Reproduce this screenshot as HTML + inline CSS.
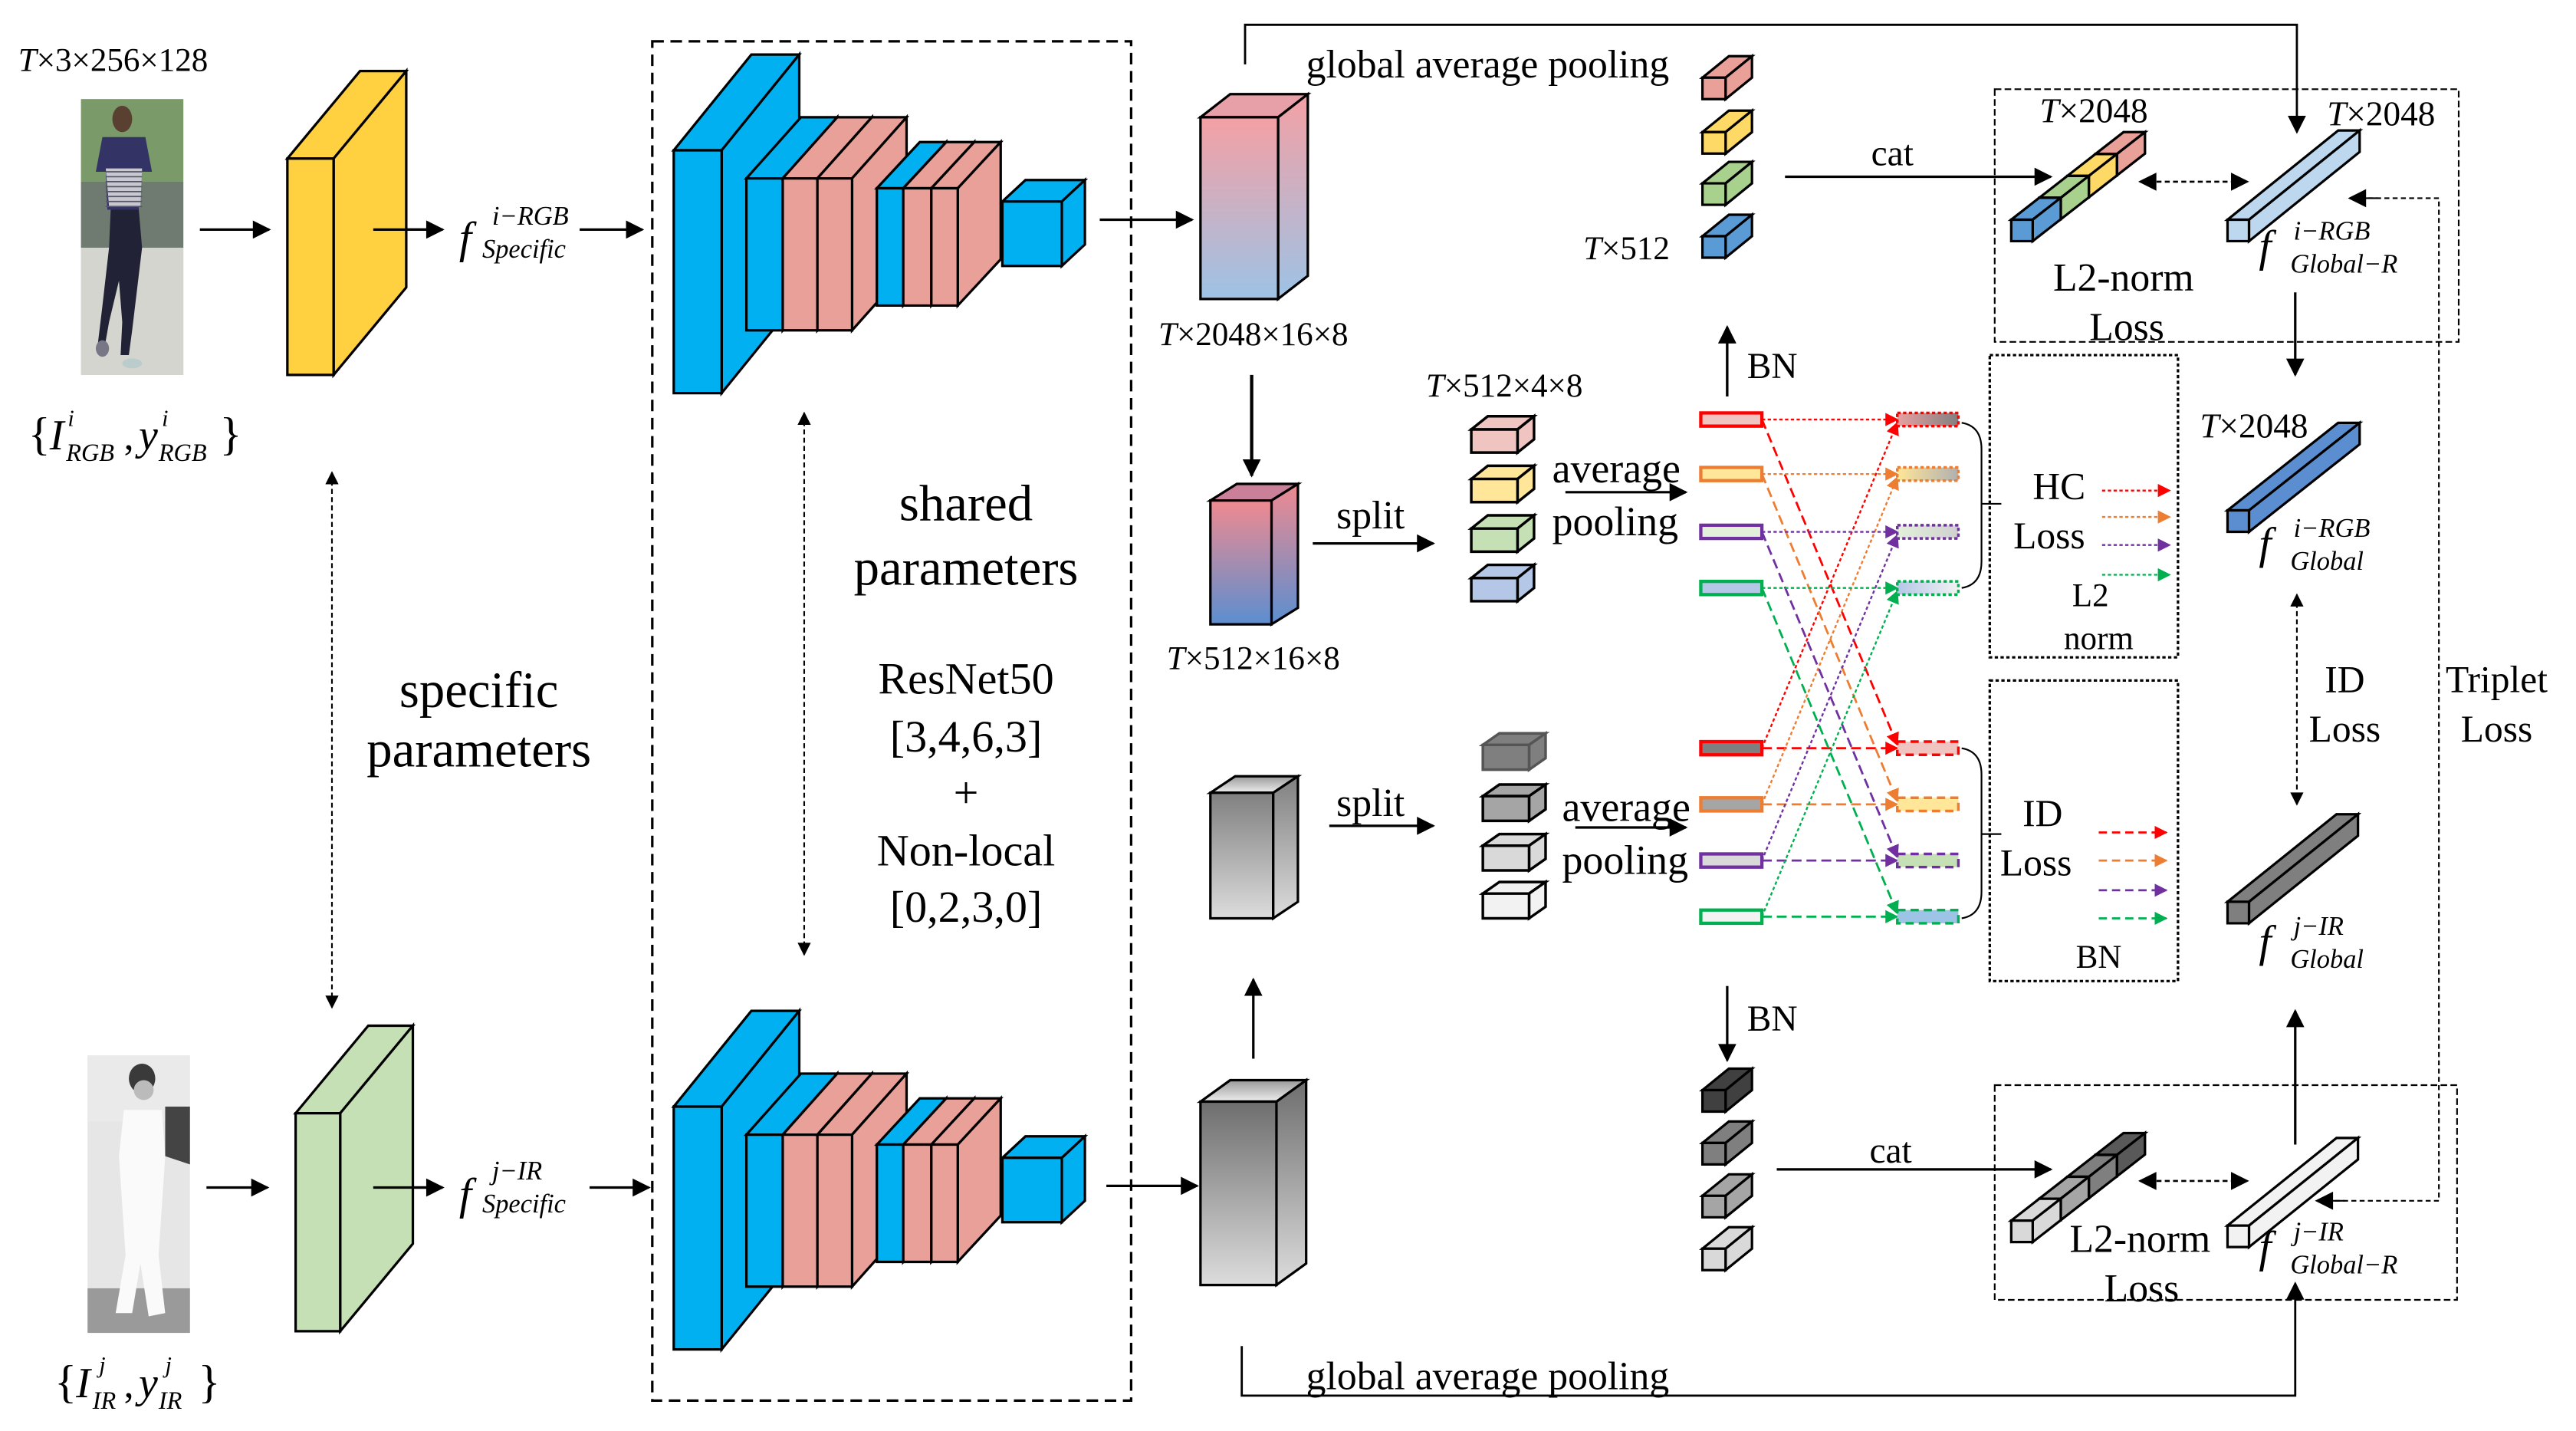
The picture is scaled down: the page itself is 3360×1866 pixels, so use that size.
<!DOCTYPE html>
<html><head><meta charset="utf-8">
<style>
html,body{margin:0;padding:0;background:#fff;}
svg{display:block;}
text{font-family:"Liberation Serif",serif;fill:#000;}
.it{font-style:italic;}
</style></head>
<body>
<svg id="s" width="3360" height="1866" viewBox="0 0 1560 866.4" xmlns="http://www.w3.org/2000/svg">
<defs>
<marker id="ak" viewBox="0 0 10 10" refX="9" refY="5" markerWidth="6" markerHeight="6" orient="auto-start-reverse" markerUnits="userSpaceOnUse"><path d="M0,0 L10,5 L0,10 z" fill="#000"/></marker>
<marker id="a" viewBox="0 0 10 10" refX="9" refY="5" markerWidth="12" markerHeight="11" orient="auto-start-reverse" markerUnits="userSpaceOnUse"><path d="M0,0 L10,5 L0,10 z" fill="#000"/></marker>
<marker id="as" viewBox="0 0 10 10" refX="9" refY="5" markerWidth="9" markerHeight="8" orient="auto-start-reverse" markerUnits="userSpaceOnUse"><path d="M0,0 L10,5 L0,10 z" fill="#000"/></marker>
<marker id="mr" viewBox="0 0 10 10" refX="9" refY="5" markerWidth="8" markerHeight="8" orient="auto" markerUnits="userSpaceOnUse"><path d="M0,0 L10,5 L0,10 z" fill="#ff0000"/></marker>
<marker id="mo" viewBox="0 0 10 10" refX="9" refY="5" markerWidth="8" markerHeight="8" orient="auto" markerUnits="userSpaceOnUse"><path d="M0,0 L10,5 L0,10 z" fill="#ed7d31"/></marker>
<marker id="mp" viewBox="0 0 10 10" refX="9" refY="5" markerWidth="8" markerHeight="8" orient="auto" markerUnits="userSpaceOnUse"><path d="M0,0 L10,5 L0,10 z" fill="#7030a0"/></marker>
<marker id="mg" viewBox="0 0 10 10" refX="9" refY="5" markerWidth="8" markerHeight="8" orient="auto" markerUnits="userSpaceOnUse"><path d="M0,0 L10,5 L0,10 z" fill="#00b050"/></marker>
<linearGradient id="g1" x1="0" y1="0" x2="0" y2="1"><stop offset="0" stop-color="#f4a0a4"/><stop offset="1" stop-color="#9dc3e6"/></linearGradient>
<linearGradient id="g2" x1="0" y1="0" x2="0" y2="1"><stop offset="0" stop-color="#f08a90"/><stop offset="1" stop-color="#5b8ed0"/></linearGradient>
<linearGradient id="g3" x1="0" y1="0" x2="0" y2="1"><stop offset="0" stop-color="#808080"/><stop offset="1" stop-color="#dcdcdc"/></linearGradient>
<linearGradient id="g4" x1="0" y1="0" x2="0" y2="1"><stop offset="0" stop-color="#6e6e6e"/><stop offset="1" stop-color="#dcdcdc"/></linearGradient>
<linearGradient id="gt" x1="0" y1="0" x2="0" y2="1"><stop offset="0" stop-color="#999"/><stop offset="1" stop-color="#eee"/></linearGradient>
<linearGradient id="hr" x1="0" y1="0" x2="1" y2="0"><stop offset="0" stop-color="#e8a0a0"/><stop offset="1" stop-color="#808080"/></linearGradient>
<linearGradient id="ho" x1="0" y1="0" x2="1" y2="0"><stop offset="0" stop-color="#ffe699"/><stop offset="1" stop-color="#b0b0b0"/></linearGradient>
<linearGradient id="hp" x1="0" y1="0" x2="1" y2="0"><stop offset="0" stop-color="#e2f0d9"/><stop offset="1" stop-color="#d0d0d0"/></linearGradient>
<linearGradient id="hg" x1="0" y1="0" x2="1" y2="0"><stop offset="0" stop-color="#b4c7e7"/><stop offset="1" stop-color="#f2f2f2"/></linearGradient>
</defs>
<g id="shapes"></g>

<!-- Left texts -->
<text x="11" y="43" font-size="20"><tspan class="it">T</tspan>×3×256×128</text>
<text x="17" y="272" font-size="28">{</text>
<text x="30" y="272" font-size="26" class="it">I</text>
<text x="41" y="258" font-size="14" class="it">i</text>
<text x="40" y="279" font-size="15" class="it">RGB</text>
<text x="75" y="272" font-size="24">,</text>
<text x="84" y="272" font-size="26" class="it">y</text>
<text x="98" y="258" font-size="14" class="it">i</text>
<text x="96" y="279" font-size="15" class="it">RGB</text>
<text x="133" y="272" font-size="28">}</text>

<text x="33" y="846" font-size="28">{</text>
<text x="46" y="846" font-size="26" class="it">I</text>
<text x="60" y="831" font-size="14" class="it">j</text>
<text x="56" y="853" font-size="15" class="it">IR</text>
<text x="75" y="846" font-size="24">,</text>
<text x="84" y="846" font-size="26" class="it">y</text>
<text x="100" y="831" font-size="14" class="it">j</text>
<text x="96" y="853" font-size="15" class="it">IR</text>
<text x="120" y="846" font-size="28">}</text>

<text x="278" y="153" font-size="27" class="it">f</text>
<text x="298" y="136" font-size="16" class="it">i−RGB</text>
<text x="292" y="156" font-size="16" class="it">Specific</text>
<text x="278" y="732" font-size="27" class="it">f</text>
<text x="298" y="714" font-size="16" class="it">j−IR</text>
<text x="292" y="734" font-size="16" class="it">Specific</text>

<text x="290" y="428" font-size="31" text-anchor="middle">specific</text>
<text x="290" y="464" font-size="31" text-anchor="middle">parameters</text>
<text x="585" y="315" font-size="31" text-anchor="middle">shared</text>
<text x="585" y="354" font-size="31" text-anchor="middle">parameters</text>
<text x="585" y="420" font-size="27" text-anchor="middle">ResNet50</text>
<text x="585" y="455" font-size="27" text-anchor="middle">[3,4,6,3]</text>
<text x="585" y="489" font-size="27" text-anchor="middle">+</text>
<text x="585" y="524" font-size="27" text-anchor="middle">Non-local</text>
<text x="585" y="558" font-size="27" text-anchor="middle">[0,2,3,0]</text>

<text x="759" y="209" font-size="20" text-anchor="middle"><tspan class="it">T</tspan>×2048×16×8</text>
<text x="759" y="405" font-size="20" text-anchor="middle"><tspan class="it">T</tspan>×512×16×8</text>
<text x="911" y="240" font-size="20" text-anchor="middle"><tspan class="it">T</tspan>×512×4×8</text>
<text x="985" y="157" font-size="20" text-anchor="middle"><tspan class="it">T</tspan>×512</text>

<text x="791" y="47" font-size="24">global average pooling</text>
<text x="791" y="841" font-size="24">global average pooling</text>
<text x="830" y="320" font-size="24" text-anchor="middle">split</text>
<text x="830" y="494" font-size="24" text-anchor="middle">split</text>
<text x="940" y="292" font-size="25">average</text>
<text x="940" y="324" font-size="25">pooling</text>
<text x="946" y="497" font-size="25">average</text>
<text x="946" y="529" font-size="25">pooling</text>
<text x="1146" y="100" font-size="22" text-anchor="middle">cat</text>
<text x="1145" y="704" font-size="22" text-anchor="middle">cat</text>
<text x="1058" y="229" font-size="22">BN</text>
<text x="1058" y="624" font-size="22">BN</text>

<text x="1268" y="74" font-size="21" text-anchor="middle"><tspan class="it">T</tspan>×2048</text>
<text x="1442" y="76" font-size="21" text-anchor="middle"><tspan class="it">T</tspan>×2048</text>
<text x="1365" y="265" font-size="21" text-anchor="middle"><tspan class="it">T</tspan>×2048</text>
<text x="1286" y="176" font-size="24" text-anchor="middle">L2-norm</text>
<text x="1288" y="206" font-size="24" text-anchor="middle">Loss</text>
<text x="1296" y="758" font-size="24" text-anchor="middle">L2-norm</text>
<text x="1297" y="788" font-size="24" text-anchor="middle">Loss</text>

<text x="1368" y="158" font-size="27" class="it">f</text>
<text x="1389" y="145" font-size="16" class="it">i−RGB</text>
<text x="1387" y="165" font-size="16" class="it">Global−R</text>
<text x="1368" y="338" font-size="27" class="it">f</text>
<text x="1389" y="325" font-size="16" class="it">i−RGB</text>
<text x="1387" y="345" font-size="16" class="it">Global</text>
<text x="1368" y="579" font-size="27" class="it">f</text>
<text x="1389" y="566" font-size="16" class="it">j−IR</text>
<text x="1387" y="586" font-size="16" class="it">Global</text>
<text x="1368" y="764" font-size="27" class="it">f</text>
<text x="1389" y="751" font-size="16" class="it">j−IR</text>
<text x="1387" y="771" font-size="16" class="it">Global−R</text>

<text x="1247" y="302" font-size="23" text-anchor="middle">HC</text>
<text x="1241" y="332" font-size="23" text-anchor="middle">Loss</text>
<text x="1266" y="367" font-size="20" text-anchor="middle">L2</text>
<text x="1271" y="393" font-size="20" text-anchor="middle">norm</text>
<text x="1237" y="500" font-size="23" text-anchor="middle">ID</text>
<text x="1233" y="530" font-size="23" text-anchor="middle">Loss</text>
<text x="1271" y="586" font-size="20" text-anchor="middle">BN</text>
<text x="1420" y="419" font-size="23" text-anchor="middle">ID</text>
<text x="1420" y="449" font-size="23" text-anchor="middle">Loss</text>
<text x="1512" y="419" font-size="23" text-anchor="middle">Triplet</text>
<text x="1512" y="449" font-size="23" text-anchor="middle">Loss</text>
</svg>
<script>
var NS="http://www.w3.org/2000/svg",G=document.getElementById("shapes");
function el(t,a){var e=document.createElementNS(NS,t);for(var k in a)e.setAttribute(k,a[k]);G.appendChild(e);return e;}
function poly(p,f,sw,st){return el("polygon",{points:p.map(function(q){return q.join(",")}).join(" "),fill:f,stroke:st||"#000","stroke-width":sw||1.5,"stroke-linejoin":"miter"});}
function box(x,y,w,h,dx,dy,f,ft,fs,sw,st){
 poly([[x,y],[x+dx,y-dy],[x+w+dx,y-dy],[x+w,y]],ft||f,sw,st);
 poly([[x+w,y],[x+w+dx,y-dy],[x+w+dx,y+h-dy],[x+w,y+h]],fs||f,sw,st);
 poly([[x,y],[x+w,y],[x+w,y+h],[x,y+h]],f,sw,st);
}
function line(x1,y1,x2,y2,o){var a={x1:x1,y1:y1,x2:x2,y2:y2,stroke:"#000","stroke-width":1.5,fill:"none"};for(var k in o)a[k]=o[k];return el("line",a);}
function pl(pts,o){var a={points:pts.map(function(q){return q.join(",")}).join(" "),stroke:"#000","stroke-width":1.3,fill:"none"};for(var k in o)a[k]=o[k];return el("polyline",a);}
function rect(x,y,w,h,o){var a={x:x,y:y,width:w,height:h,fill:"none",stroke:"#000","stroke-width":1.5};for(var k in o)a[k]=o[k];return el("rect",a);}

// images
rect(49,60,62,167,{fill:"#c9cfc1",stroke:"none"});
rect(49,60,62,50,{fill:"#7a9a6a",stroke:"none"});
rect(49,110,62,40,{fill:"#6f7a70",stroke:"none"});
rect(49,150,62,77,{fill:"#d5d5cf",stroke:"none"});
el("ellipse",{cx:74,cy:72,rx:6,ry:8,fill:"#5a4030"});
poly([[62,83],[88,83],[92,104],[84,104],[84,127],[65,127],[64,104],[58,104]],"#333366",0.1,"none");
poly([[64,102],[86,102],[85,125],[66,125]],"#c8c8d0",0.1,"none");
for(var i=0;i<8;i++)line(64,104+i*3,86,104+i*3,{stroke:"#556","stroke-width":0.8});
poly([[67,127],[84,127],[86,150],[80,200],[78,215],[73,215],[74,195],[72,170],[66,195],[63,212],[59,210],[62,185],[66,150]],"#222236",0.1,"none");
el("ellipse",{cx:80,cy:220,rx:6,ry:3,fill:"#bcc"});
el("ellipse",{cx:62,cy:211,rx:4,ry:5,fill:"#778"});
rect(53,639,62,168,{fill:"#e6e6e6",stroke:"none"});
rect(53,780,62,27,{fill:"#9a9a9a",stroke:"none"});
rect(53,639,62,40,{fill:"#eaeaea",stroke:"none"});
poly([[100,670],[115,670],[115,705],[100,700]],"#444",0.1,"none");
el("ellipse",{cx:86,cy:653,rx:8,ry:9,fill:"#3a3a3a"});
el("ellipse",{cx:87,cy:660,rx:6,ry:6,fill:"#bbb"});
poly([[75,672],[98,672],[100,700],[96,760],[100,795],[90,797],[85,765],[80,795],[70,795],[76,760],[72,700]],"#fafafa",0.1,"none");

// arrows left
line(121,139,163,139,{"marker-end":"url(#a)"});
line(226,139,268,139,{"marker-end":"url(#a)"});
line(351,139,389,139,{"marker-end":"url(#a)"});
line(125,719,162,719,{"marker-end":"url(#a)"});
line(226,719,268,719,{"marker-end":"url(#a)"});
line(357,719,393,719,{"marker-end":"url(#a)"});

// specific blocks
box(174,96,28,131,44,53,"#ffd040");
box(179,674,27,132,44,53,"#c5e0b4");
line(226,139,268,139,{"marker-end":"url(#a)"});
line(226,719,268,719,{"marker-end":"url(#a)"});

// dashed box
rect(395,25,290,823,{"stroke-dasharray":"7,4"});
line(201,286,201,610,{"stroke-width":1,"stroke-dasharray":"3,2","marker-start":"url(#as)","marker-end":"url(#as)"});
line(487,250,487,578,{"stroke-width":1,"stroke-dasharray":"3,2","marker-start":"url(#as)","marker-end":"url(#as)"});

// ResNets
var B="#00b0f0",P="#e8a098";
function resnet(o){
 box(408,91+o,29,147,47,58,B);
 box(452,108+o,22,92,33,37,B);
 box(474,108+o,21,92,33,37,P);
 box(495,108+o,21,92,33,37,P);
 box(531,114+o,16,71,26,28,B);
 box(547,114+o,17,71,26,28,P);
 box(564,114+o,16,71,26,28,P);
 box(607,122+o,36,39,14,13,B);
}
resnet(0);resnet(579);

// feature blocks
box(727,71,47,110,18,14,"url(#g1)","#e8a0a8","url(#g1)");
box(733,303,37,75,16,10,"url(#g2)","#c98098","url(#g2)");
box(733,480,38,76,15,10,"url(#g3)","url(#gt)","url(#g3)");
box(727,667,46,111,18,13,"url(#g4)","url(#gt)","url(#g4)");
line(666,133,722,133,{"marker-end":"url(#a)"});
line(670,718,725,718,{"marker-end":"url(#a)"});
line(758,227,758,288,{"stroke-width":2,"marker-end":"url(#a)"});
line(759,641,759,593,{"marker-end":"url(#a)"});
line(795,329,868,329,{"marker-end":"url(#a)"});
line(805,500,868,500,{"marker-end":"url(#a)"});
line(948,298,1021,298,{"marker-end":"url(#a)"});
line(954,501,1021,501,{"marker-end":"url(#a)"});

// split cubes
[["#f0c4c0",260],["#ffe699",290],["#c5e0b4",320],["#b4c7e7",350]].forEach(function(c){box(891,c[1],28,14,10,8,c[0],null,null,1.6);});
[["#7f7f7f",451,"#555"],["#a5a5a5",482],["#d9d9d9",512],["#f2f2f2",541]].forEach(function(c){box(898,c[1],28,15,10,7,c[0],null,null,1.6,c[2]);});

// top small cubes
[["#e8a098",47],["#ffd966",80],["#a9d18e",111],["#5b9bd5",143]].forEach(function(c){box(1031,c[1],14,13,16,13,c[0]);});
[["#404040",660],["#7f7f7f",692],["#a5a5a5",724],["#d9d9d9",756]].forEach(function(c){box(1031,c[1],14,13,16,13,c[0]);});

// global pooling lines
pl([[754,39],[754,15],[1391,15],[1391,80]],{"marker-end":"url(#a)"});
pl([[752,815],[752,845],[1390,845],[1390,777]],{"marker-end":"url(#a)"});
line(1081,107,1242,107,{"marker-end":"url(#a)"});
line(1076,708,1242,708,{"marker-end":"url(#a)"});
line(1046,240,1046,198,{"marker-end":"url(#a)"});
line(1046,597,1046,642,{"marker-end":"url(#a)"});

// dashed boxes
rect(1208,54,281,153,{"stroke-width":1,"stroke-dasharray":"4,2"});
rect(1208,657,280,130,{"stroke-width":1,"stroke-dasharray":"4,2"});
rect(1205,215,114,183,{"stroke-width":1.5,"stroke-dasharray":"2,1.5"});
rect(1205,412,114,182,{"stroke-width":1.5,"stroke-dasharray":"2,1.5"});

// bars
function bar(x,y,dx,dy,cols){
 var n=cols.length,s=13;
 for(var i=n-1;i>=0;i--){var ox=x+dx*i/n,oy=y-dy*i/n;box(ox,oy,s,s,dx/n,dy/n,cols[i]);}
}
bar(1218,133,68,53,["#5b9bd5","#a9d18e","#ffd966","#e8a098"]);
bar(1349,133,67,54,["#bdd7ee"]);
bar(1349,309,67,53,["#5b8ed0"]);
bar(1349,546,66,53,["#7f7f7f"]);
bar(1218,739,68,53,["#d9d9d9","#a5a5a5","#7f7f7f","#595959"]);
bar(1349,742,66,53,["#f2f2f2"]);

line(1296,110,1361,110,{"stroke-width":1.2,"stroke-dasharray":"3,2","marker-start":"url(#a)","marker-end":"url(#a)"});
line(1296,715,1361,715,{"stroke-width":1.2,"stroke-dasharray":"3,2","marker-start":"url(#a)","marker-end":"url(#a)"});
line(1390,177,1390,227,{"marker-end":"url(#a)"});
line(1390,693,1390,612,{"marker-end":"url(#a)"});
line(1391,360,1391,487,{"stroke-width":1,"stroke-dasharray":"3,2","marker-start":"url(#as)","marker-end":"url(#as)"});
pl([[1424,120],[1477,120],[1477,727],[1404,727]],{"stroke-width":1,"stroke-dasharray":"3,2"});
line(1440,120,1423,120,{"marker-end":"url(#a)","stroke-width":1});
line(1420,727,1403,727,{"marker-end":"url(#a)","stroke-width":1});

// crossing
var C=[["#ff0000","mr","#f0c4c0","#7f7f7f","url(#hr)","#f0c4c0"],["#ed7d31","mo","#ffe699","#a5a5a5","url(#ho)","#ffe699"],["#7030a0","mp","#e2f0d9","#d9d9d9","url(#hp)","#c5e0b4"],["#00b050","mg","#b4c7e7","#f2f2f2","url(#hg)","#9dc3e6"]];
var TY=[254,287,322,356],BY=[453,487,521,555];
C.forEach(function(c,i){
 var t=TY[i],b=BY[i];
 line(1067,t,1149,t,{stroke:c[0],"stroke-width":1.1,"stroke-dasharray":"2,1.5","marker-end":"url(#"+c[1]+")"});
 line(1067,b,1149,t+2,{stroke:c[0],"stroke-width":1.1,"stroke-dasharray":"2,1.5","marker-end":"url(#"+c[1]+")"});
 line(1067,t,1149,b-2,{stroke:c[0],"stroke-width":1.3,"stroke-dasharray":"6,3","marker-end":"url(#"+c[1]+")"});
 line(1067,b,1149,b,{stroke:c[0],"stroke-width":1.3,"stroke-dasharray":"6,3","marker-end":"url(#"+c[1]+")"});
 rect(1030,t-4,37,8,{fill:c[2],stroke:c[0],"stroke-width":2});
 rect(1030,b-4,37,8,{fill:c[3],stroke:c[0],"stroke-width":2});
 rect(1149,t-4,37,8,{fill:c[4],stroke:c[0],"stroke-width":1.6,"stroke-dasharray":"2,1.5"});
 rect(1149,b-4,37,8,{fill:c[5],stroke:c[0],"stroke-width":1.6,"stroke-dasharray":"5,3"});
 var ay=[297,313,330,348][i],by=[504,521,539,556][i];
 line(1273,ay,1314,ay,{stroke:c[0],"stroke-width":1.1,"stroke-dasharray":"2,1.5","marker-end":"url(#"+c[1]+")"});
 line(1271,by,1312,by,{stroke:c[0],"stroke-width":1.3,"stroke-dasharray":"5,3","marker-end":"url(#"+c[1]+")"});
});
// braces
el("path",{d:"M1188,256 Q1200,258 1200,272 L1200,340 Q1200,354 1188,356 M1200,305 L1212,305",fill:"none",stroke:"#000","stroke-width":1});
el("path",{d:"M1188,453 Q1200,455 1200,469 L1200,540 Q1200,554 1188,556 M1200,505 L1212,505",fill:"none",stroke:"#000","stroke-width":1});
line(1046,240,1046,198,{"marker-end":"url(#a)"});
</script>
</body></html>
